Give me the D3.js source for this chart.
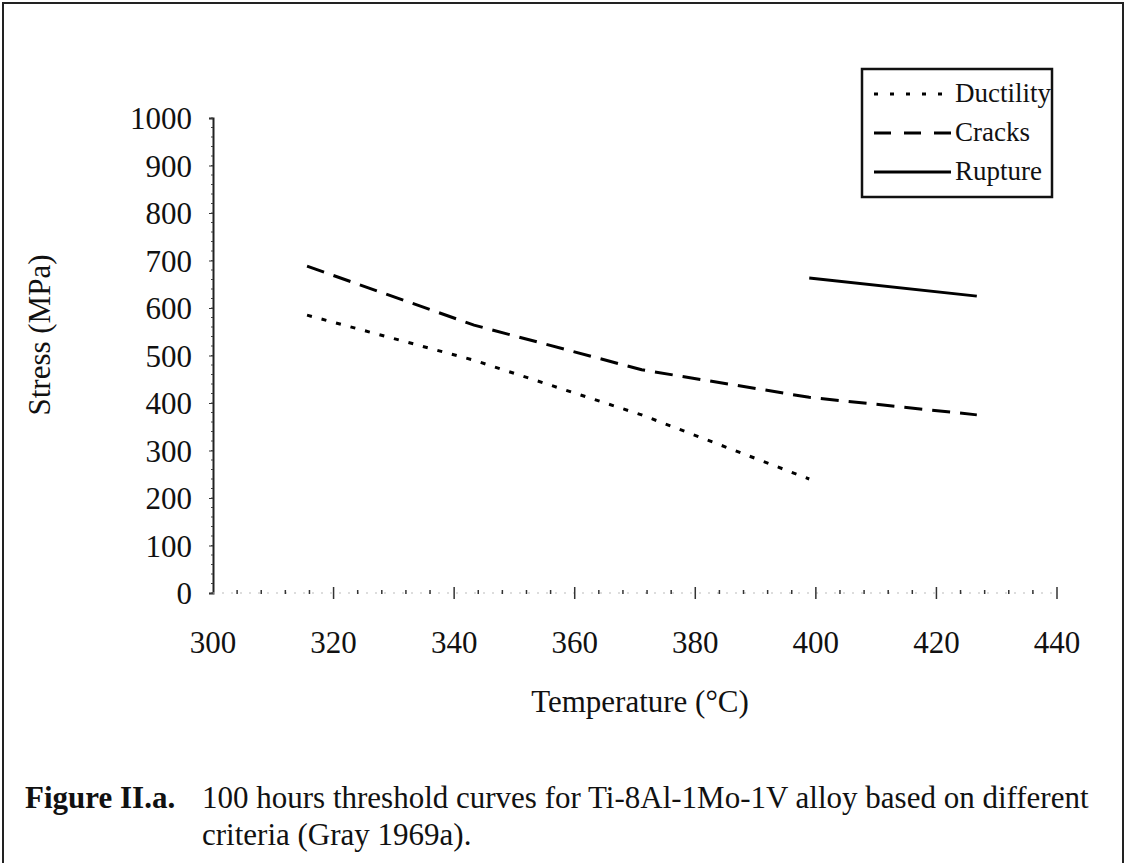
<!DOCTYPE html>
<html>
<head>
<meta charset="utf-8">
<script src="https://cdn.jsdelivr.net/npm/d3@7"></script>
<style>
  html, body { margin: 0; padding: 0; background: #fff; }
  svg text { font-family: 'Liberation Serif', 'Times New Roman', serif; fill: #111; }
</style>
</head>
<body>
<div id="chart"></div>
<script>
// temperatures (600, 650, 700, 750, 800 F converted to C)
var temps = [315.6, 343.3, 371.1, 398.9, 426.7];

// stress values (MPa)
var ductility = [585, 490, 375, 240];
var cracks = [688, 564, 470, 412, 375];
var rupture = [663, 625];
var ruptureTemps = [398.9, 426.7];

var seriesNames = ['Ductility', 'Cracks', 'Rupture'];
var xTicks = [300, 320, 340, 360, 380, 400, 420, 440];
var yTicks = [0, 100, 200, 300, 400, 500, 600, 700, 800, 900, 1000];

var width = 1126;
var height = 863;
var fontSize = 31;

var svg = d3.select('#chart')
    .append('svg')
        .attr('width', width)
        .attr('height', height);

// outer frame (bottom runs off the page)
svg.append('path')
    .attr('d', 'M3,' + height + 'V3H1123V' + height)
    .attr('fill', 'none')
    .attr('stroke', '#222')
    .attr('stroke-width', 2);

var x = d3.scaleLinear()
    .domain([300, 440])
    .range([213, 1057]);
var y = d3.scaleLinear()
    .domain([0, 1000])
    .range([593, 118]);

// y axis
var yAxis = d3.axisLeft(y)
    .tickValues(yTicks)
    .tickSize(4)
    .tickPadding(17)
    .tickFormat(d3.format('d'));
var yg = svg.append('g')
    .attr('transform', 'translate(' + x(300) + ',0)')
    .call(yAxis);
yg.select('.domain')
    .attr('stroke', '#222')
    .attr('stroke-width', 2);
yg.selectAll('.tick line')
    .attr('stroke', '#333');
yg.selectAll('.tick text')
    .attr('dy', '0.35em')
    .style('font-size', fontSize + 'px');

// minor y ticks
svg.append('g')
    .selectAll('line')
    .data(d3.range(0, 1001, 20))
    .enter()
    .append('line')
        .attr('x1', x(300) - 2)
        .attr('x2', x(300))
        .attr('y1', function(d) { return y(d); })
        .attr('y2', function(d) { return y(d); })
        .attr('stroke', '#444')
        .attr('stroke-width', 1);

// x axis: faint dotted base line, crossing major ticks, small minor ticks
var xg = svg.append('g');
xg.append('line')
    .attr('x1', x(300))
    .attr('x2', x(440))
    .attr('y1', y(0))
    .attr('y2', y(0))
    .attr('stroke', '#bbb')
    .attr('stroke-width', 1)
    .attr('stroke-dasharray', '2,7');
xg.selectAll('.minor')
    .data(d3.range(304, 440, 4).filter(function(d) { return d % 20 != 0; }))
    .enter()
    .append('line')
        .attr('class', 'minor')
        .attr('x1', function(d) { return x(d); })
        .attr('x2', function(d) { return x(d); })
        .attr('y1', y(0) - 3)
        .attr('y2', y(0) + 1)
        .attr('stroke', '#333')
        .attr('stroke-width', 1.5);
xg.selectAll('.major')
    .data(xTicks.slice(1))
    .enter()
    .append('line')
        .attr('class', 'major')
        .attr('x1', function(d) { return x(d); })
        .attr('x2', function(d) { return x(d); })
        .attr('y1', y(0) - 6)
        .attr('y2', y(0) + 6)
        .attr('stroke', '#333')
        .attr('stroke-width', 1.5);
xg.selectAll('text')
    .data(xTicks)
    .enter()
    .append('text')
        .attr('x', function(d) { return x(d); })
        .attr('y', 653)
        .style('text-anchor', 'middle')
        .style('font-size', fontSize + 'px')
        .text(function(d) { return d; });

// axis titles
svg.append('text')
    .attr('x', 640)
    .attr('y', 712)
    .style('text-anchor', 'middle')
    .style('font-size', fontSize + 'px')
    .text('Temperature (\u00B0C)');
svg.append('text')
    .attr('transform', 'translate(50,335) rotate(-90)')
    .style('text-anchor', 'middle')
    .style('font-size', fontSize + 'px')
    .text('Stress (MPa)');

// line styles
var styles = {
  Ductility: '5,10',
  Cracks: '18,10',
  Rupture: null
};
var legendStyles = {
  Ductility: '4,12',
  Cracks: '17,13',
  Rupture: null
};

var line = d3.line()
    .x(function(d) { return x(d[0]); })
    .y(function(d) { return y(d[1]); });

function drawSeries(xs, ys, name) {
  svg.append('path')
      .datum(d3.zip(xs, ys))
      .attr('d', line)
      .attr('fill', 'none')
      .attr('stroke', '#000')
      .attr('stroke-width', 3)
      .attr('stroke-dasharray', styles[name]);
}

drawSeries(temps.slice(0, ductility.length), ductility, 'Ductility');
drawSeries(temps, cracks, 'Cracks');
drawSeries(ruptureTemps, rupture, 'Rupture');

// legend
var legend = svg.append('g')
    .attr('class', 'legend');
legend.append('rect')
    .attr('x', 862)
    .attr('y', 69)
    .attr('width', 190)
    .attr('height', 128)
    .attr('fill', '#fff')
    .attr('stroke', '#111')
    .attr('stroke-width', 2.5);
var rows = legend.selectAll('.row')
    .data(seriesNames)
    .enter()
    .append('g')
        .attr('class', 'row')
        .attr('transform', function(d, i) { return 'translate(0,' + (102 + i * 39) + ')'; });
rows.append('line')
    .attr('x1', 874)
    .attr('x2', function(d) { return d == 'Ductility' ? 942 : 951; })
    .attr('y1', -8)
    .attr('y2', -8)
    .attr('stroke', '#000')
    .attr('stroke-width', 3)
    .attr('stroke-dasharray', function(d) { return legendStyles[d]; });
rows.append('text')
    .attr('x', 955)
    .attr('y', 0)
    .style('font-size', '27px')
    .text(function(d) { return d; });

// caption
var caption = svg.append('g')
    .attr('class', 'caption');
caption.append('text')
    .attr('x', 25)
    .attr('y', 808)
    .style('font-size', fontSize + 'px')
    .style('font-weight', 'bold')
    .text('Figure II.a.');
caption.append('text')
    .attr('x', 202)
    .attr('y', 808)
    .style('font-size', fontSize + 'px')
    .text('100 hours threshold curves for Ti-8Al-1Mo-1V alloy based on different');
caption.append('text')
    .attr('x', 202)
    .attr('y', 845)
    .style('font-size', fontSize + 'px')
    .text('criteria (Gray 1969a).');
</script>
</body>
</html>
